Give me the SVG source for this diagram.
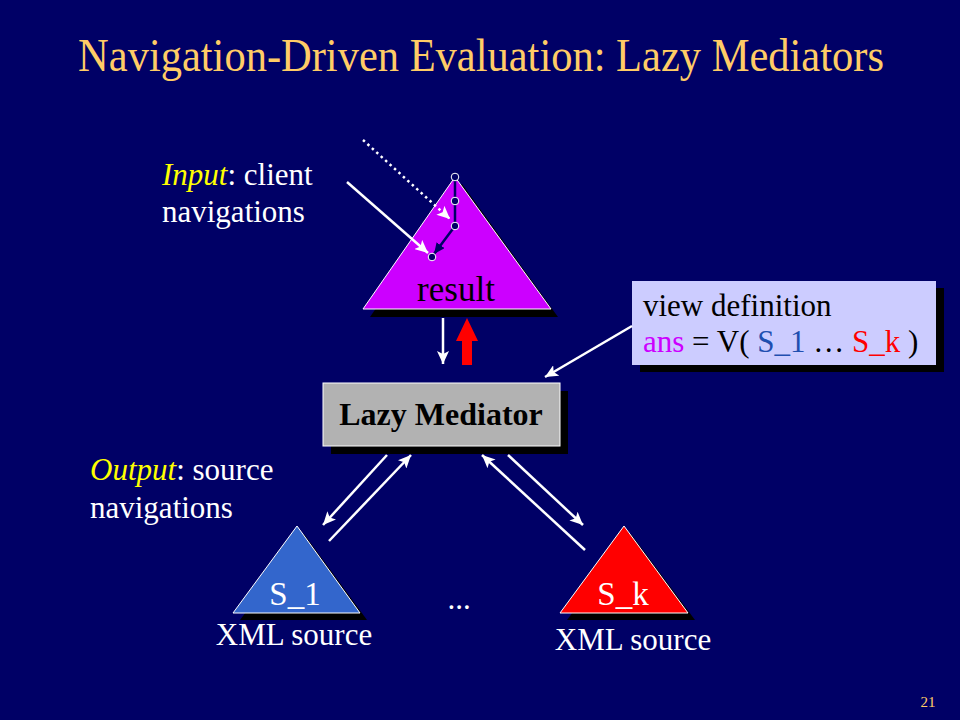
<svg xmlns="http://www.w3.org/2000/svg" width="960" height="720" viewBox="0 0 960 720">
<defs>
<style>
.t{font-family:"Liberation Serif","Times New Roman",serif;}
.body{font-size:31px;fill:#ffffff;}
.yel{fill:#ffff00;font-style:italic;}
.wl{stroke:#ffffff;stroke-width:2.5;fill:none;}
.shadow{fill:#000000;}
.edge{stroke:#ffffff;stroke-width:1;}
</style>
<marker id="wh" markerUnits="userSpaceOnUse" markerWidth="14" markerHeight="12" refX="13" refY="6" orient="auto">
<path d="M0,0 L13,6 L0,12 L3,6 z" fill="#ffffff"/>
</marker>
<marker id="nh" markerUnits="userSpaceOnUse" markerWidth="12" markerHeight="10" refX="11" refY="5" orient="auto">
<path d="M0,0 L11,5 L0,10 z" fill="#000066"/>
</marker>
</defs>
<rect x="0" y="0" width="960" height="720" fill="#000066"/>

<text class="t" transform="translate(481,71) scale(1,1.08)" x="0" y="0" font-size="42.5" fill="#ffcc66" text-anchor="middle">Navigation-Driven Evaluation: Lazy Mediators</text>

<g id="input-label">
<text class="t body" x="162" y="185"><tspan class="yel">Input</tspan>: client</text>
<text class="t body" x="162" y="222">navigations</text>
</g>

<g id="output-label">
<text class="t body" x="90" y="480"><tspan class="yel">Output</tspan>: source</text>
<text class="t body" x="90" y="518">navigations</text>
</g>

<g id="result">
<polygon class="shadow" points="462,184 370,317 558,317"/>
<polygon points="455,177 363,309 551,309" fill="#cc00ff" class="edge"/>
<line x1="455" y1="177" x2="455" y2="226" stroke="#000066" stroke-width="2.5"/>
<line x1="455" y1="226" x2="434" y2="254" stroke="#000066" stroke-width="2.5" marker-end="url(#nh)"/>
<circle cx="455" cy="177" r="3.8" fill="#000066" stroke="#ffffff" stroke-width="1"/>
<circle cx="455" cy="201" r="3.8" fill="#000066" stroke="#ffffff" stroke-width="1"/>
<circle cx="455" cy="226" r="3.8" fill="#000066" stroke="#ffffff" stroke-width="1"/>
<circle cx="432" cy="257" r="3.8" fill="#000066" stroke="#ffffff" stroke-width="1"/>
<text class="t" x="456" y="301" font-size="35" fill="#000000" text-anchor="middle">result</text>
</g>

<g id="mediator">
<rect class="shadow" x="331" y="391" width="237" height="63"/>
<rect x="323" y="383" width="237" height="63" fill="#b2b2b2" class="edge"/>
<text class="t" x="441" y="425" font-size="32" font-weight="bold" fill="#000000" text-anchor="middle">Lazy Mediator</text>
</g>

<g id="view-definition">
<rect class="shadow" x="640" y="288" width="304" height="84"/>
<rect x="632" y="281" width="304" height="84" fill="#ccccff"/>
<text class="t" x="643" y="316" font-size="31" fill="#000000">view definition</text>
<text class="t" x="643" y="352" font-size="31" fill="#000000"><tspan fill="#cc00ff">ans</tspan> = V( <tspan fill="#1f4fb0">S_1</tspan> … <tspan fill="#ff0000">S_k</tspan> )</text>
</g>

<g id="source-1">
<polygon class="shadow" points="304,534 240,620 367,620"/>
<polygon points="297,526 233,613 360,613" fill="#3366cc" class="edge"/>
<text class="t" x="295" y="605" font-size="33" fill="#ffffff" text-anchor="middle">S_1</text>
<text class="t body" x="294" y="645" text-anchor="middle">XML source</text>
</g>

<g id="source-k">
<polygon class="shadow" points="631,534 567,620 695,620"/>
<polygon points="624,526 560,613 688,613" fill="#ff0000" class="edge"/>
<text class="t" x="623" y="605" font-size="33" fill="#ffffff" text-anchor="middle">S_k</text>
<text class="t body" x="633" y="650" text-anchor="middle">XML source</text>
</g>

<g id="ellipsis">
<text class="t body" x="459" y="609" text-anchor="middle">...</text>
</g>

<g id="page-number">
<text class="t" x="928" y="707" font-size="15" fill="#ffcc66" text-anchor="middle">21</text>
</g>

<g id="connectors">
<line class="wl" x1="363" y1="140" x2="450" y2="219" stroke-width="3" stroke-dasharray="2.5 3.5" marker-end="url(#wh)"/>
<line class="wl" x1="347" y1="182" x2="428" y2="253" marker-end="url(#wh)"/>
<line class="wl" x1="443" y1="318" x2="443" y2="364" marker-end="url(#wh)"/>
<polygon points="462,365 472,365 472,341 478,341 467,318 456,341 462,341" fill="#ff0000"/>
<line class="wl" x1="632" y1="326" x2="545" y2="377" marker-end="url(#wh)"/>
<line class="wl" x1="387" y1="455" x2="323" y2="525" marker-end="url(#wh)"/>
<line class="wl" x1="329" y1="541" x2="411" y2="455" marker-end="url(#wh)"/>
<line class="wl" x1="585" y1="550" x2="482" y2="455" marker-end="url(#wh)"/>
<line class="wl" x1="508" y1="455" x2="583" y2="525" marker-end="url(#wh)"/>
</g>
</svg>
